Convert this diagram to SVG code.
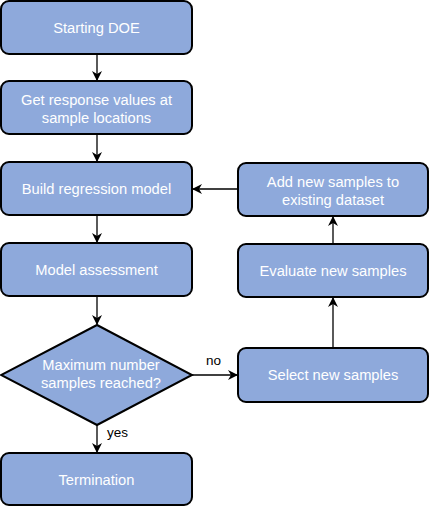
<svg xmlns="http://www.w3.org/2000/svg" width="430" height="507" viewBox="0 0 430 507">
<defs>
<marker id="arr" viewBox="0 0 10 10" refX="9" refY="5" markerWidth="10" markerHeight="10" markerUnits="userSpaceOnUse" orient="auto">
<path d="M0,0 L10,5 L0,10 L3,5 Z" fill="#000"/>
</marker>
</defs>
<style>
.n{fill:#8EA9DB;stroke:#000;stroke-width:2}
.t{font-family:"Liberation Sans",Arial,sans-serif;font-size:14.7px;fill:#fff;text-anchor:middle}
.l{font-family:"Liberation Sans",Arial,sans-serif;font-size:13.5px;fill:#000}
.c{fill:none;stroke:#000;stroke-width:1.3}
</style>
<rect width="430" height="507" fill="#fff"/>
<g id="connectors">
<line class="c" x1="97" y1="54" x2="97" y2="80" marker-end="url(#arr)"/>
<line class="c" x1="97" y1="134" x2="97" y2="161" marker-end="url(#arr)"/>
<line class="c" x1="97" y1="215" x2="97" y2="242" marker-end="url(#arr)"/>
<line class="c" x1="97" y1="296" x2="97" y2="324" marker-end="url(#arr)"/>
<line class="c" x1="97" y1="425" x2="97" y2="452" marker-end="url(#arr)"/>
<line class="c" x1="192" y1="375" x2="237" y2="375" marker-end="url(#arr)"/>
<line class="c" x1="333" y1="348" x2="333" y2="298" marker-end="url(#arr)"/>
<line class="c" x1="333" y1="244" x2="333" y2="217" marker-end="url(#arr)"/>
<line class="c" x1="238" y1="189" x2="193" y2="189" marker-end="url(#arr)"/>
<text class="l" x="206" y="365">no</text>
<text class="l" x="107" y="437">yes</text>
</g>
<g id="n1"><rect class="n" x="1" y="1" width="191" height="53" rx="8"/><text class="t" x="96.5" y="33">Starting DOE</text></g>
<g id="n2"><rect class="n" x="1" y="81" width="191" height="53" rx="8"/><text class="t" x="96.5" y="105">Get response values at</text><text class="t" x="96.5" y="123">sample locations</text></g>
<g id="n3"><rect class="n" x="1" y="162" width="191" height="53" rx="8"/><text class="t" x="96.5" y="194">Build regression model</text></g>
<g id="n4"><rect class="n" x="1" y="243" width="191" height="53" rx="8"/><text class="t" x="96.5" y="275">Model assessment</text></g>
<g id="n5"><polygon class="n" points="97,325 192,375 97,425 1,375"/><text class="t" x="101" y="370">Maximum number</text><text class="t" x="101" y="388">samples reached?</text></g>
<g id="n6"><rect class="n" x="1" y="453" width="191" height="52" rx="8"/><text class="t" x="96.5" y="485">Termination</text></g>
<g id="n7"><rect class="n" x="238" y="163" width="190" height="53" rx="8"/><text class="t" x="333" y="187">Add new samples to</text><text class="t" x="333" y="205">existing dataset</text></g>
<g id="n8"><rect class="n" x="238" y="244" width="190" height="53" rx="8"/><text class="t" x="333" y="276">Evaluate new samples</text></g>
<g id="n9"><rect class="n" x="238" y="348" width="190" height="54" rx="8"/><text class="t" x="333" y="380">Select new samples</text></g>
</svg>
